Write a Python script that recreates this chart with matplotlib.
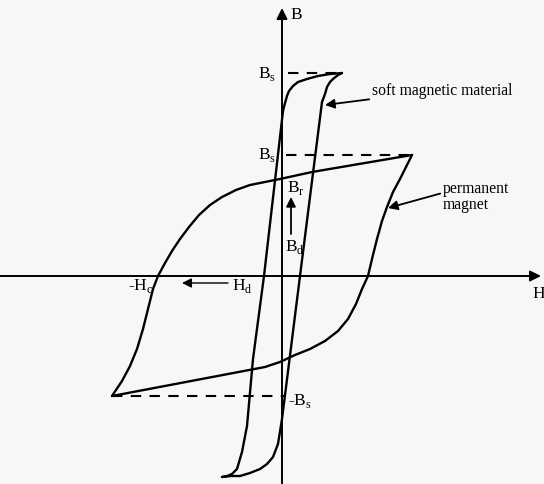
import matplotlib
matplotlib.use("Agg")
import matplotlib.pyplot as plt

# Soft magnetic material: descending and ascending branches (H, B)
soft_desc_H = [60, 48, 36, 25, 16, 11, 7, 5, 3, 1, -18, -29, -35, -40, -45, -50, -55, -60]
soft_desc_B = [203, 202, 200, 197, 194, 190, 185, 180, 173, 165, 0, -83, -150, -176, -193, -198, -200, -201]
soft_asc_H = [-60, -51, -42, -32, -22, -15, -9, -4, 0, 18, 40, 43, 45, 48, 51, 56, 60]
soft_asc_B = [-201, -200, -200, -197, -193, -188, -181, -168, -143, 0, 174, 182, 189, 194, 197, 201, 203]

# Permanent magnet: descending and ascending branches (H, B)
perm_desc_H = [130, 30, -2, -17, -32, -46, -60, -72, -83, -93, -102, -110, -117, -124,
               -129, -134, -139, -145, -152, -160, -170]
perm_desc_B = [121, 104, 97, 94, 91, 86, 79, 71, 61, 49, 37, 25, 13, 0,
               -13, -33, -53, -73, -90, -105, -120]
perm_asc_H = [-170, -17, -2, 13, 28, 43, 56, 66, 74, 80, 86, 90, 95, 100, 105, 111, 118, 124, 130]
perm_asc_B = [-120, -91, -86, -79, -73, -65, -55, -43, -28, -13, 0, 17, 37, 55, 69, 84, 97, 109, 121]

# Saturation levels marked with dashed guides
soft_Bs = 203
perm_Bs = 121
perm_neg_Bs = -120

plt.rcParams['font.family'] = ['Liberation Serif', 'DejaVu Serif']

fig = plt.figure(figsize=(5.44, 4.85), dpi=100, facecolor='#f7f7f7')
ax = fig.add_axes([0, 0, 1, 1])
ax.set_facecolor('#f7f7f7')
ax.set_xlim(-282, 262)
ax.set_ylim(-208, 277)
ax.axis('off')

lw = 1.7
k = 'black'

# Coordinate axes with arrowheads
ax.annotate('', xy=(0, 268), xytext=(0, -210),
            arrowprops=dict(arrowstyle='-|>', lw=1.4, color=k, mutation_scale=16,
                            shrinkA=0, shrinkB=0))
ax.annotate('', xy=(259, 0), xytext=(-284, 0),
            arrowprops=dict(arrowstyle='-|>', lw=1.4, color=k, mutation_scale=16,
                            shrinkA=0, shrinkB=0))

# Hysteresis loops
for h, b in [(soft_desc_H, soft_desc_B), (soft_asc_H, soft_asc_B),
             (perm_desc_H, perm_desc_B), (perm_asc_H, perm_asc_B)]:
    ax.plot(h, b, color=k, lw=lw, solid_joinstyle='round', solid_capstyle='round')

# Dashed saturation guides
dash = dict(color=k, lw=1.5, dashes=(5, 4))
ax.plot([6, soft_desc_H[0]], [soft_Bs, soft_Bs], **dash)
ax.plot([4, perm_desc_H[0]], [perm_Bs, perm_Bs], **dash)
ax.plot([perm_desc_H[-1], 4], [perm_neg_Bs, perm_neg_Bs], **dash)

fs = 12.5
ax.text(8, 262, 'B', fontsize=fs, va='center', ha='left')
ax.text(250, -17, 'H', fontsize=fs, va='center', ha='left')
ax.text(-6, soft_Bs, 'B$_\\mathregular{s}$', fontsize=fs, va='center', ha='right')
ax.text(-6, perm_Bs + 1, 'B$_\\mathregular{s}$', fontsize=fs, va='center', ha='right')
ax.text(6, perm_neg_Bs - 4, '-B$_\\mathregular{s}$', fontsize=fs, va='center', ha='left')
ax.text(5, 89, 'B$_\\mathregular{r}$', fontsize=fs, va='center', ha='left')
ax.text(3, 30, 'B$_\\mathregular{d}$', fontsize=fs, va='center', ha='left')
ax.text(-154, -9, '-H$_\\mathregular{c}$', fontsize=fs, va='center', ha='left')
ax.text(-50, -9, 'H$_\\mathregular{d}$', fontsize=fs, va='center', ha='left')

arrow = dict(arrowstyle='-|>', lw=1.3, color=k, mutation_scale=14, shrinkA=0, shrinkB=0)
ax.annotate('', xy=(9, 79), xytext=(9, 42), arrowprops=arrow)
ax.annotate('', xy=(-100, -7), xytext=(-54, -7), arrowprops=dict(arrow, lw=1.0))

ax.annotate('soft magnetic material', xy=(43, 171), xytext=(90, 186),
            fontsize=11.3, va='center', ha='left', arrowprops=arrow)
ax.annotate('permanent\nmagnet', xy=(106, 68), xytext=(161, 80),
            fontsize=11.3, va='center', ha='left', linespacing=1.0,
            arrowprops=dict(arrow, relpos=(0, 0.6)))

fig.savefig('out.png', dpi=100, facecolor=fig.get_facecolor())
